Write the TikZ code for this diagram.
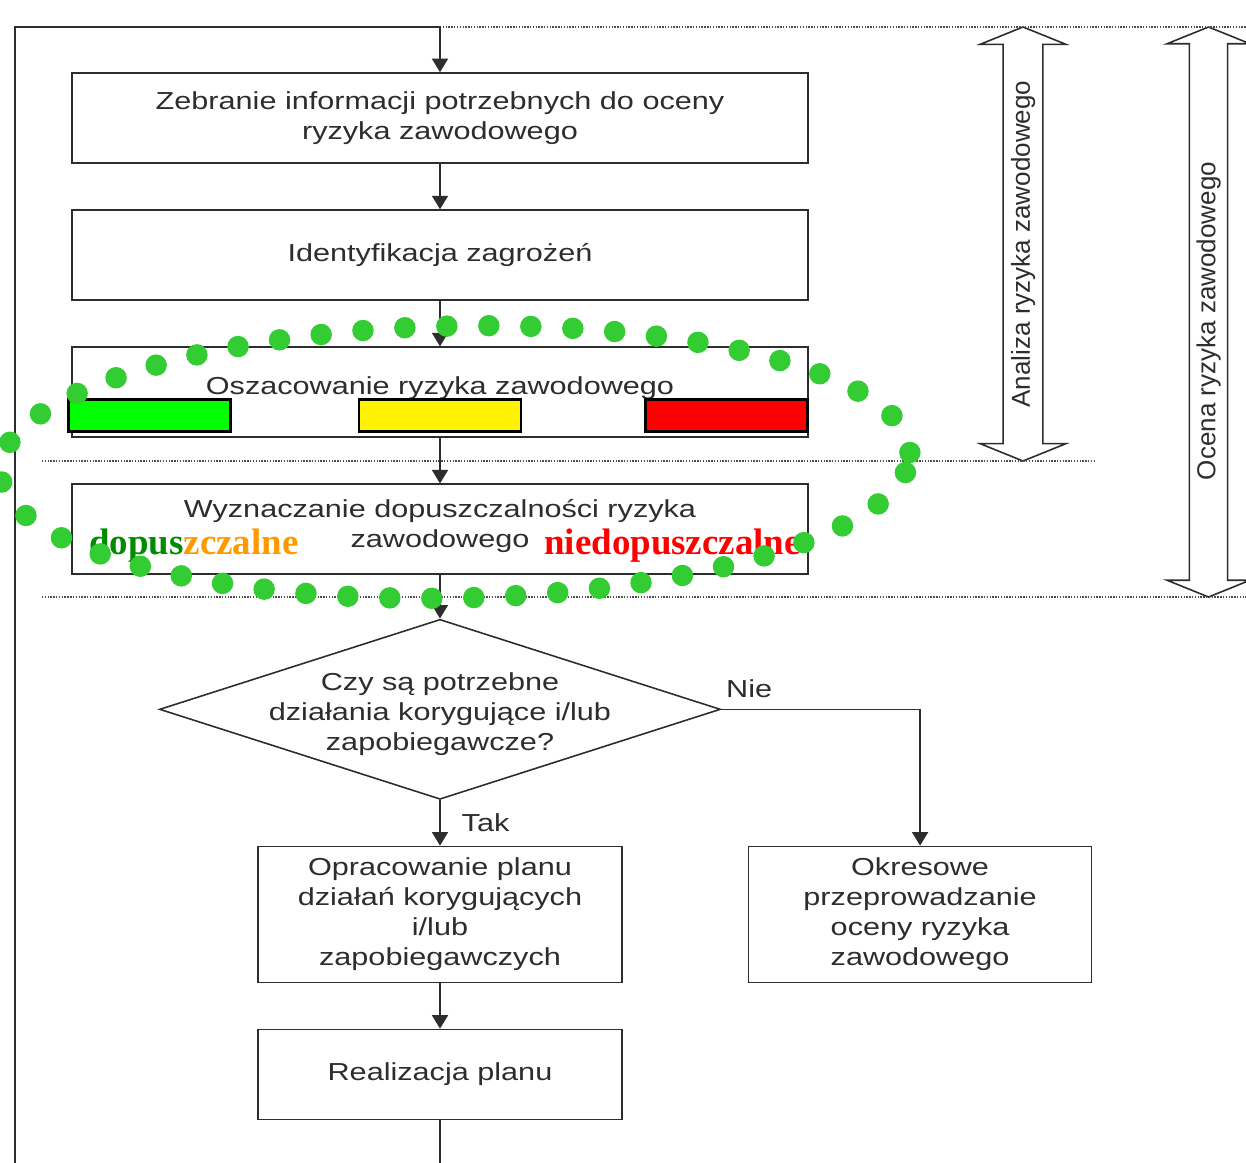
\documentclass[tikz,border=0pt]{standalone}
\usepackage{fontspec}
\setmainfont{Liberation Sans}[FakeStretch=1.245]
\newfontfamily\upsans{Liberation Sans}
\newfontfamily\overlayserif{Liberation Serif}
\usetikzlibrary{positioning,shapes.geometric,shapes.arrows,arrows.meta}

\definecolor{ink}{RGB}{45,45,45}
\definecolor{dotgreen}{RGB}{51,204,51}
\definecolor{okgreen}{RGB}{0,140,0}
\definecolor{midorange}{RGB}{255,153,0}

\newcommand\gap{0.91cm}
\newcommand\boxw{14.72cm}
\newcommand\boxh{1.8cm}
\newcommand\planw{7.28cm}
\newcommand\planh{2.72cm}

\tikzset{
  stepbox/.style={draw=ink, line width=0.9pt, minimum width=\boxw, minimum height=\boxh,
    align=center, inner sep=0pt},
  planbox/.style={stepbox, minimum width=\planw, minimum height=\planh},
  question/.style={diamond, draw=ink, line width=0.9pt, aspect=3.12, inner sep=-8pt,
    minimum width=11.22cm, minimum height=3.6cm, align=center},
  flow/.style={draw=ink, line width=0.9pt, -{Triangle[length=0.27cm,width=0.32cm]}},
  level/.style={draw=black, line width=1.5pt, minimum width=3.24cm, minimum height=0.64cm,
    inner sep=0pt},
  phase/.style={double arrow, draw=ink, line width=0.9pt, fill=white, rotate=90,
    double arrow tip angle=136, double arrow head extend=0.42cm, minimum width=1.72cm,
    inner xsep=0pt, inner ysep=0.1cm, text height=10.8pt, text depth=3.1pt,
    font=\upsans\fontsize{14.8pt}{15pt}\selectfont},
  sep/.style={draw=ink!85, line width=0.6pt, dash pattern=on 0.8pt off 0.8pt},
  verdict/.style={font=\overlayserif\bfseries\fontsize{21pt}{21pt}\selectfont, inner sep=0pt},
  dotring/.style={dotgreen, line width=0.43cm, line cap=round, dash pattern=on 0pt off 0.84cm},
}

\begin{document}
\begin{tikzpicture}[font=\fontsize{14pt}{17.1pt}\selectfont, text=ink]
  \useasboundingbox (0,0) rectangle (24.92,-23.24);

  % main column
  \node[stepbox] (zeb) at (8.8,-2.36) {Zebranie informacji potrzebnych do oceny\\ryzyka zawodowego};
  \node[stepbox, below=\gap of zeb] (ident) {Identyfikacja zagrożeń};
  \node[stepbox, below=\gap of ident, text depth=7pt] (osz) {Oszacowanie ryzyka zawodowego};
  \node[stepbox, below=\gap of osz, text depth=7pt] (wyz) {Wyznaczanie dopuszczalności ryzyka\\zawodowego};
  \node[question, below=0.87cm of wyz, text height=50pt] (czy) {Czy są potrzebne\\działania korygujące i/lub\\zapobiegawcze?};
  \node[planbox, below=\gap of czy] (opr) {Opracowanie planu\\działań korygujących\\i/lub\\zapobiegawczych};
  \node[planbox, right=2.5cm of opr, minimum width=6.86cm] (okr) {Okresowe\\przeprowadzanie\\oceny ryzyka\\zawodowego};
  \node[stepbox, below=\gap of opr, minimum width=\planw] (real) {Realizacja planu};

  % risk levels
  \node[level, fill=green, anchor=south west] (low) at ([xshift=-0.08cm, yshift=0.1cm]osz.south west) {};
  \node[level, fill=yellow, anchor=south] (mid) at ([yshift=0.1cm]osz.south) {};
  \node[level, fill=red, anchor=south east] (high) at ([yshift=0.1cm]osz.south east) {};

  % phases
  \node[phase, minimum height=8.68cm] (analiza) at (20.46,-4.88) {Analiza ryzyka zawodowego};
  \node[phase, minimum height=11.4cm, minimum width=1.66cm] (ocena) at (24.17,-6.24) {Ocena ryzyka zawodowego\hspace*{0.36cm}};

  % separators
  \coordinate (fbtop) at (0.3,-0.54);
  \coordinate (fbbot) at (0.3,-24.2);
  \draw[sep] (8.8,-0.54) -- (24.92,-0.54);
  \draw[sep] (0.84,-9.22) -- (21.9,-9.22);
  \draw[sep] (0.84,-11.94) -- (24.92,-11.94);

  % connectors
  \draw[flow] (zeb) -- (ident);
  \draw[flow] (ident) -- (osz);
  \draw[flow] (osz) -- (wyz);
  \draw[flow] (wyz) -- (czy);
  \draw[flow] (czy.south) -- node[right=0.3cm] (tak) {Tak} (opr.north);
  \draw[flow] (czy.east) -| node[pos=0.07, above=0.1cm] (nie) {Nie} (okr.north);
  \draw[flow] (opr) -- (real);
  \draw[flow] (real.south) |- (fbbot) -- (fbtop) -| (zeb.north);

  % verdicts
  \node[verdict] (dop) at (3.88,-10.92) {\textcolor{okgreen}{dopus}\textcolor{midorange}{zczalne}};
  \node[verdict, text=red] (niedop) at (13.45,-10.92) {niedopuszczalne};

  \draw[dotring, rotate around={1.2:(9.1,-9.24)}] (9.1,-9.24) ellipse [x radius=9.1cm, y radius=2.72cm];
\end{tikzpicture}
\end{document}
